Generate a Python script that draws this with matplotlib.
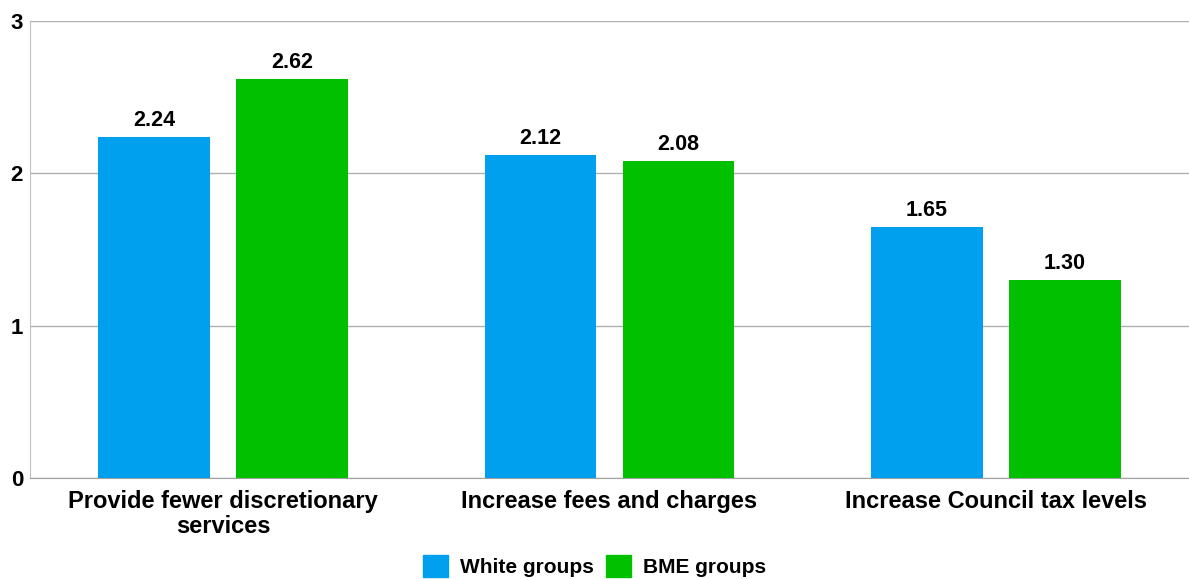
import numpy as np
import matplotlib.pyplot as plt
from matplotlib.patches import Patch

# chart values
categories = ['Provide fewer discretionary\nservices', 'Increase fees and charges', 'Increase Council tax levels']
white_groups = [2.24, 2.12, 1.65]
bme_groups = [2.62, 2.08, 1.30]
yticks = [0, 1, 2, 3]

plt.rcParams['font.family'] = ['Liberation Sans', 'DejaVu Sans']
plt.rcParams['font.weight'] = 'bold'

blue = '#00A0EE'
green = '#00C000'

fig = plt.figure(figsize=(11.89, 5.79), dpi=100)
ax = fig.add_axes([30 / 1189, 1 - 478 / 579, 1 - 30 / 1189, (478 - 21) / 579])

x = np.arange(len(categories))
width = 0.289
offset = 0.179
b1 = ax.bar(x - offset, white_groups, width, color=blue, zorder=3)
b2 = ax.bar(x + offset, bme_groups, width, color=green, zorder=3)

for bars, vals in ((b1, white_groups), (b2, bme_groups)):
    for bar, v in zip(bars, vals):
        ax.text(bar.get_x() + bar.get_width() / 2, v + 0.038, f'{v:.2f}',
                ha='center', va='bottom', fontsize=15.5, fontweight='bold')

ax.set_xlim(-0.5, 2.5)
ax.set_ylim(0, 3)
ax.set_yticks(yticks)
ax.set_yticklabels([str(t) for t in yticks], fontsize=16, fontweight='bold')
ax.set_xticks(x)
ax.set_xticklabels(categories, fontsize=17, fontweight='bold', linespacing=1.1)
ax.tick_params(axis='both', length=0)
ax.tick_params(axis='y', pad=5)
ax.tick_params(axis='x', pad=8.5)
ax.grid(axis='y', color='#b0b0b0', linewidth=1, zorder=0)

for side in ('top', 'right'):
    ax.spines[side].set_visible(False)
ax.spines['left'].set_color('#c0c0c0')
ax.spines['bottom'].set_color('#a0a0a0')

handles = [Patch(color=blue, label='White groups'), Patch(color=green, label='BME groups')]
fig.legend(handles=handles, loc='center', bbox_to_anchor=(0.5, 1 - 566 / 579), ncol=2,
           frameon=False, prop={'size': 15, 'weight': 'bold'},
           handlelength=1.2, handleheight=1.2, handletextpad=0.58, columnspacing=0.58)

fig.savefig('out.png', dpi=100)
